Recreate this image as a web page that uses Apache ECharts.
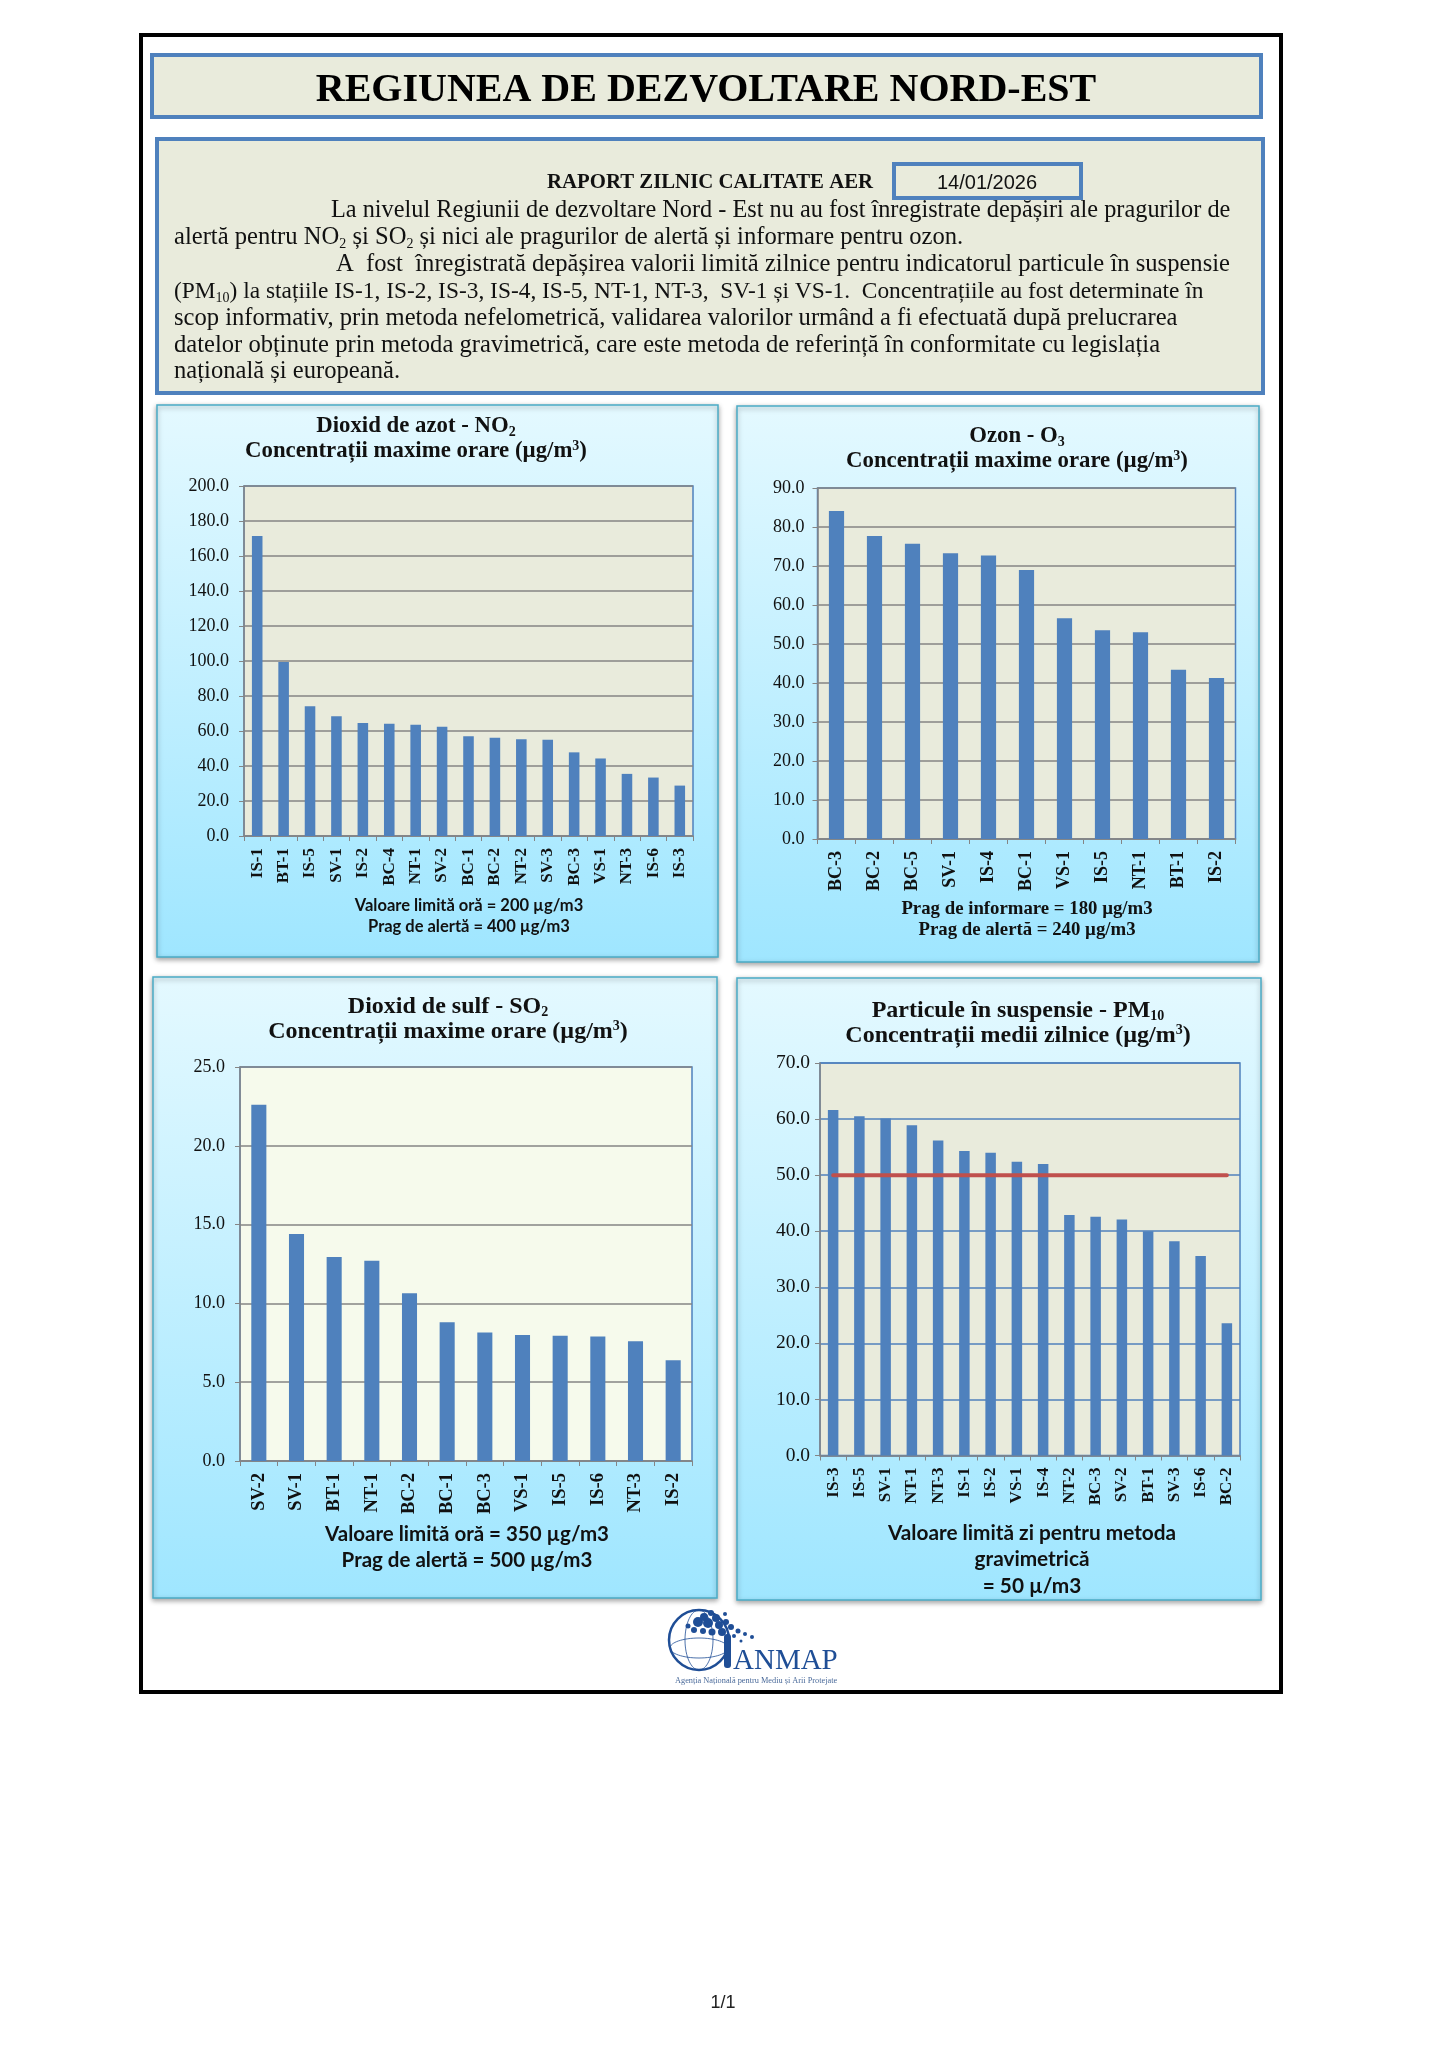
<!DOCTYPE html>
<html><head><meta charset="utf-8">
<style>html,body{margin:0;padding:0;background:#fff}#c{width:1448px;height:2048px}</style>
<script src="https://cdn.jsdelivr.net/npm/echarts@6/dist/echarts.min.js"></script>
</head><body><div id="c"></div>
<script>
// ---- data ----
const no2Stations = ['IS-1','BT-1','IS-5','SV-1','IS-2','BC-4','NT-1','SV-2','BC-1','BC-2','NT-2','SV-3','BC-3','VS-1','NT-3','IS-6','IS-3'];
const no2Values = [171.5,99.5,74.2,68.5,64.6,64.2,63.6,62.4,57.0,56.2,55.3,55.0,47.8,44.3,35.5,33.4,28.8];
const o3Stations = ['BC-3','BC-2','BC-5','SV-1','IS-4','BC-1','VS-1','IS-5','NT-1','BT-1','IS-2'];
const o3Values = [84.1,77.7,75.7,73.3,72.7,69.0,56.6,53.5,53.0,43.4,41.3];
const so2Stations = ['SV-2','SV-1','BT-1','NT-1','BC-2','BC-1','BC-3','VS-1','IS-5','IS-6','NT-3','IS-2'];
const so2Values = [22.6,14.4,12.95,12.7,10.65,8.8,8.15,8.0,7.95,7.9,7.6,6.4];
const pmStations = ['IS-3','IS-5','SV-1','NT-1','NT-3','IS-1','IS-2','VS-1','IS-4','NT-2','BC-3','SV-2','BT-1','SV-3','IS-6','BC-2'];
const pmValues = [61.6,60.5,60.1,58.9,56.2,54.3,54.0,52.4,52.0,42.9,42.6,42.1,40.0,38.2,35.6,23.6];
const pmLimit = [50,50,50,50,50,50,50,50,50,50,50,50,50,50,50,50];

// ---- layout ----
const SERIF = '"Liberation Serif", serif', SANS = 'Lato, "Open Sans", sans-serif';
const BLUE = '#4F81BD', PAPER = '#E9EBDC', INK = '#111';
const charts = [
 {names:no2Stations, vals:no2Values, max:200, step:20, box:[157,405,561,552], plot:[244,486,449,350], bg:PAPER, grid:'#858585', ym:15, xf:17, yf:18, tf:22.8,
  t1:[['Dioxid de azot - NO','b'],['2','s']], tx:416, ty:428, t2text:'Concentrații maxime orare (',
  notes:['Valoare limită oră = 200 µg/m3','Prag de alertă = 400 µg/m3'], nx:469, ny:[906,927], nf:16.5},
 {names:o3Stations, vals:o3Values, max:90, step:10, box:[737,406,522,556], plot:[817.5,488,418,351], bg:PAPER, grid:'#858585', ym:13, xf:18, yf:18, tf:22.8,
  t1:[['Ozon - O','b'],['3','s']], tx:1017, ty:438, t2text:'Concentrații maxime orare (',
  notes:['Prag de informare = 180 µg/m3','Prag de alertă = 240 µg/m3'], nx:1027, ny:[909,930], nf:18.8, nSerif:true},
 {names:so2Stations, vals:so2Values, max:25, step:5, box:[153,977,564,621], plot:[240,1067,452,394], bg:'#F6FAEC', grid:'#858585', ym:15, xf:18.5, yf:18, tf:24,
  t1:[['Dioxid de sulf - SO','b'],['2','s']], tx:448, ty:1008, t2text:'Concentrații maxime orare (',
  notes:['Valoare limită oră = 350 µg/m3','Prag de alertă = 500 µg/m3'], nx:467, ny:[1534,1560], nf:20.5},
 {names:pmStations, vals:pmValues, max:70, step:10, box:[737,978,524,622], plot:[820,1063,420,392.5], bg:PAPER, grid:'#4F81BD', ym:10, xf:17, yf:19.5, tf:24,
  t1:[['Particule în suspensie - PM','b'],['10','s']], tx:1018, ty:1012, t2text:'Concentrații medii zilnice (',
  notes:['Valoare limită zi pentru metoda','gravimetrică','= 50 µ/m3'], nx:1032, ny:[1533,1559,1586], nf:20.8}
];
const titleRich = size => ({
  b:{fontFamily:SERIF,fontWeight:'bold',fontSize:size,color:INK,lineHeight:25},
  s:{fontFamily:SERIF,fontWeight:'bold',fontSize:14,color:INK,lineHeight:25,verticalAlign:'bottom'},
  u:{fontFamily:SERIF,fontWeight:'bold',fontSize:14,color:INK,lineHeight:25,verticalAlign:'top'}
});
const rich = {
  p:{fontFamily:SERIF,fontSize:24.6,color:INK,lineHeight:26},
  v:{fontFamily:SERIF,fontSize:24.3,color:INK,lineHeight:26},
  r:{fontFamily:SERIF,fontSize:23.4,color:INK,lineHeight:26},
  q:{fontFamily:SERIF,fontSize:14,color:INK,lineHeight:26,verticalAlign:'bottom'}
};
const rect = (x,y,w,h,fill,stroke,lw,extra) => Object.assign({type:'rect',z:-10,shape:{x,y,width:w,height:h},style:{fill,stroke,lineWidth:lw}},extra||{});
const label = (x,y,text,font,align) => ({type:'text',z:5,x,y,style:Object.assign({text,textAlign:align||'left',textVerticalAlign:'middle',fill:INK},font)});
const ptext = (x,y,text) => label(x,y,text,{rich,font:'24px '+SERIF});

const panelFill = {type:'linear',x:0,y:0,x2:0,y2:1,colorStops:[{offset:0,color:'#E4F9FF'},{offset:1,color:'#9FE6FF'}]};
const LOGO = '#1F4E96';
const treeBlobs = [[698,1622,5],[704,1617,4],[711,1613,3],[708,1623,5],[716,1618,4],[719,1625,4],[726,1622,3],[731,1627,3],[738,1631,2.5],[745,1634,2],[752,1637,2],[694,1630,3],[703,1631,3],[712,1632,3.5],[722,1632,4],[734,1636,2],[741,1641,1.5],[688,1626,2.5],[725,1614,2]];
const graphics = [
  rect(141,35,1140,1657,'#fff','#000',4),
  rect(152,55,1109,62,PAPER,BLUE,4),
  rect(157,139,1106,254,PAPER,BLUE,4),
  rect(894,164,187,34,PAPER,BLUE,4),
  label(547,183,'RAPORT ZILNIC CALITATE AER',{font:'bold 20.8px '+SERIF}),
  label(987,183,'14/01/2026',{font:'20px "Liberation Sans", sans-serif',textAlign:'center'}),
  ptext(331,211,'{v|La nivelul Regiunii de dezvoltare Nord - Est nu au fost înregistrate depășiri ale pragurilor de}'),
  ptext(174,238,'{p|alertă pentru NO}{q|2}{p| și SO}{q|2}{p| și nici ale pragurilor de alertă și informare pentru ozon.}'),
  ptext(336,265,'{p|A  fost  înregistrată depășirea valorii limită zilnice pentru indicatorul particule în suspensie}'),
  ptext(174,292,'{r|(PM}{q|10}{r|) la stațiile IS-1, IS-2, IS-3, IS-4, IS-5, NT-1, NT-3,  SV-1 și VS-1.  Concentrațiile au fost determinate în}'),
  ptext(174,319,'{p|scop informativ, prin metoda nefelometrică, validarea valorilor urmând a fi efectuată după prelucrarea}'),
  ptext(174,346,'{p|datelor obținute prin metoda gravimetrică, care este metoda de referință în conformitate cu legislația}'),
  ptext(174,372,'{p|națională și europeană.}'),
  label(723,2003,'1/1',{font:'18px "Liberation Sans", sans-serif',textAlign:'center',fill:'#222'}),
  // logo
  {type:'circle',z:5,shape:{cx:699,cy:1640,r:30},style:{fill:'none',stroke:LOGO,lineWidth:2.5}},
  {type:'ellipse',z:5,shape:{cx:699,cy:1640,rx:14,ry:30},style:{fill:'none',stroke:LOGO,lineWidth:0.8}},
  {type:'ellipse',z:5,shape:{cx:699,cy:1648,rx:29,ry:10},style:{fill:'none',stroke:LOGO,lineWidth:0.8}},
  {type:'rect',z:5,shape:{x:724,y:1634,width:7,height:34,r:3},style:{fill:LOGO}},
  ...treeBlobs.map(c=>({type:'circle',z:5,shape:{cx:c[0],cy:c[1],r:c[2]},style:{fill:LOGO}})),
  label(733,1661,'ANMAP',{font:'29px '+SERIF,fill:LOGO}),
  label(675,1681,'Agenția Națională pentru Mediu și Arii Protejate',{font:'8.3px '+SERIF,fill:'#4A6A9A'})
];
charts.forEach(c=>{
  graphics.push(rect(c.box[0],c.box[1],c.box[2],c.box[3],panelFill,'#4BACC6',1.5,
    {style:{fill:panelFill,stroke:'#4BACC6',lineWidth:1.5,shadowBlur:5,shadowColor:'rgba(0,0,0,.35)',shadowOffsetY:2}}));
  c.notes.forEach((n,i)=>graphics.push(label(c.nx,c.ny[i],n,{font:'bold '+c.nf+'px '+(c.nSerif?SERIF:SANS),textAlign:'center'})));
});

const option = {
  animation:false,
  textStyle:{fontFamily:SERIF},
  title:[
    {text:'REGIUNEA DE DEZVOLTARE NORD-EST',left:706,top:71,textAlign:'center',padding:0,
     textStyle:{fontFamily:SERIF,fontWeight:'bold',fontSize:40,color:'#000'}},
    ...charts.map(c=>({
      text:c.t1.map(p=>'{'+p[1]+'|'+p[0]+'}').join('')+'\n{b|'+c.t2text+'µg/m}{u|3}{b|)}',
      left:c.tx,top:c.ty-14,textAlign:'center',padding:0,
      textStyle:{rich:titleRich(c.tf),fontFamily:SERIF,fontWeight:'bold',fontSize:c.tf,lineHeight:25,align:'center'}
    }))
  ],
  grid:charts.map(c=>({left:c.plot[0],top:c.plot[1],width:c.plot[2],height:c.plot[3],show:true,backgroundColor:c.bg,borderColor:BLUE,borderWidth:1.5,containLabel:false})),
  xAxis:charts.map((c,i)=>({type:'category',gridIndex:i,data:c.names,
    axisLine:{lineStyle:{color:'#858585',width:1.5}},
    axisTick:{show:true,length:5,lineStyle:{color:'#858585'}},
    axisLabel:{rotate:90,interval:0,margin:12,color:INK,fontFamily:SERIF,fontWeight:'bold',fontSize:c.xf},
    splitLine:{show:false}})),
  yAxis:charts.map((c,i)=>({type:'value',gridIndex:i,min:0,max:c.max,interval:c.step,
    axisLine:{show:true,lineStyle:{color:'#858585',width:1.5}},
    axisTick:{show:true,length:5,lineStyle:{color:'#858585'}},
    axisLabel:{margin:c.ym,color:INK,fontFamily:SERIF,fontSize:c.yf,formatter:v=>v.toFixed(1)},
    splitLine:{show:true,lineStyle:{color:c.grid,width:1.5}}})),
  series:[
    ...charts.map((c,i)=>({type:'bar',xAxisIndex:i,yAxisIndex:i,data:c.vals,barCategoryGap:'60%',itemStyle:{color:BLUE},silent:true})),
    {type:'line',xAxisIndex:3,yAxisIndex:3,data:pmLimit,symbol:'none',silent:true,z:5,lineStyle:{color:'#C0504D',width:4,cap:'round'}}
  ],
  graphic:{elements:graphics}
};
const chart = echarts.init(document.getElementById('c'),null,{renderer:'canvas',width:1448,height:2048});
chart.setOption(option);
</script></body></html>
